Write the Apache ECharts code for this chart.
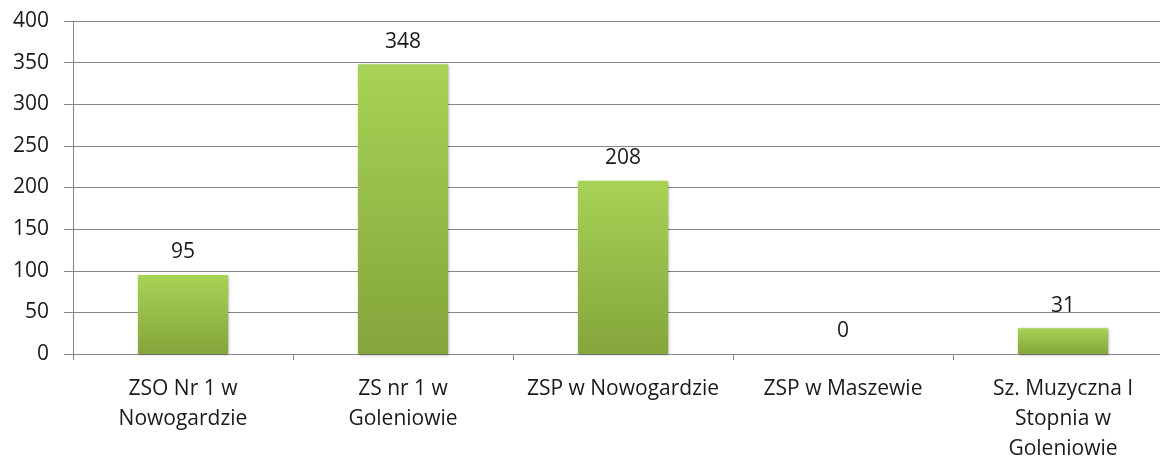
<!DOCTYPE html>
<html>
<head>
<meta charset="utf-8">
<script src="https://cdn.jsdelivr.net/npm/echarts@6/dist/echarts.min.js"></script>
<style>
  html, body { margin: 0; padding: 0; background: #fff; }
  #chart { width: 1160px; height: 462px; }
</style>
</head>
<body>
<div id="chart"></div>
<script>
const categories = [
  'ZSO Nr 1 w\nNowogardzie',
  'ZS nr 1 w\nGoleniowie',
  'ZSP w Nowogardzie',
  'ZSP w Maszewie',
  'Sz. Muzyczna I\nStopnia w\nGoleniowie'
]
const values = [95, 348, 208, 0, 31]
const yTicks = { min: 0, max: 400, interval: 50 }

const font = '"Open Sans", Lato, sans-serif'
const chart = echarts.init(document.getElementById('chart'))

chart.setOption({
  animation: false,
  grid: { left: 73, right: -13, top: 21, bottom: 108, outerBoundsMode: 'none' },
  xAxis: {
    type: 'category',
    data: categories,
    axisLine: { lineStyle: { color: '#868686', width: 1 } },
    axisTick: { show: true, length: 6, lineStyle: { color: '#868686' } },
    axisLabel: {
      color: '#1a1a1a',
      fontFamily: font,
      fontSize: 21,
      lineHeight: 30,
      margin: 20,
      interval: 0
    },
    splitLine: { show: false }
  },
  yAxis: {
    type: 'value',
    min: yTicks.min,
    max: yTicks.max,
    interval: yTicks.interval,
    axisLine: { show: true, lineStyle: { color: '#868686', width: 1 } },
    axisTick: { show: true, length: 9, lineStyle: { color: '#868686' } },
    axisLabel: {
      color: '#1a1a1a',
      fontFamily: font,
      fontSize: 21,
      margin: 24
    },
    splitLine: { lineStyle: { color: '#868686', width: 1 } }
  },
  series: [
    {
      type: 'bar',
      data: values,
      barWidth: '41%',
      itemStyle: {
        color: new echarts.graphic.LinearGradient(0, 0, 0, 1, [
          { offset: 0, color: '#a8d255' },
          { offset: 1, color: '#84a53b' }
        ]),
        shadowColor: 'rgba(0, 0, 0, 0.35)',
        shadowBlur: 3,
        shadowOffsetX: 1,
        shadowOffsetY: 1
      },
      label: {
        show: true,
        position: 'top',
        distance: 12,
        color: '#1a1a1a',
        fontFamily: font,
        fontSize: 21
      }
    }
  ]
})
</script>
</body>
</html>
